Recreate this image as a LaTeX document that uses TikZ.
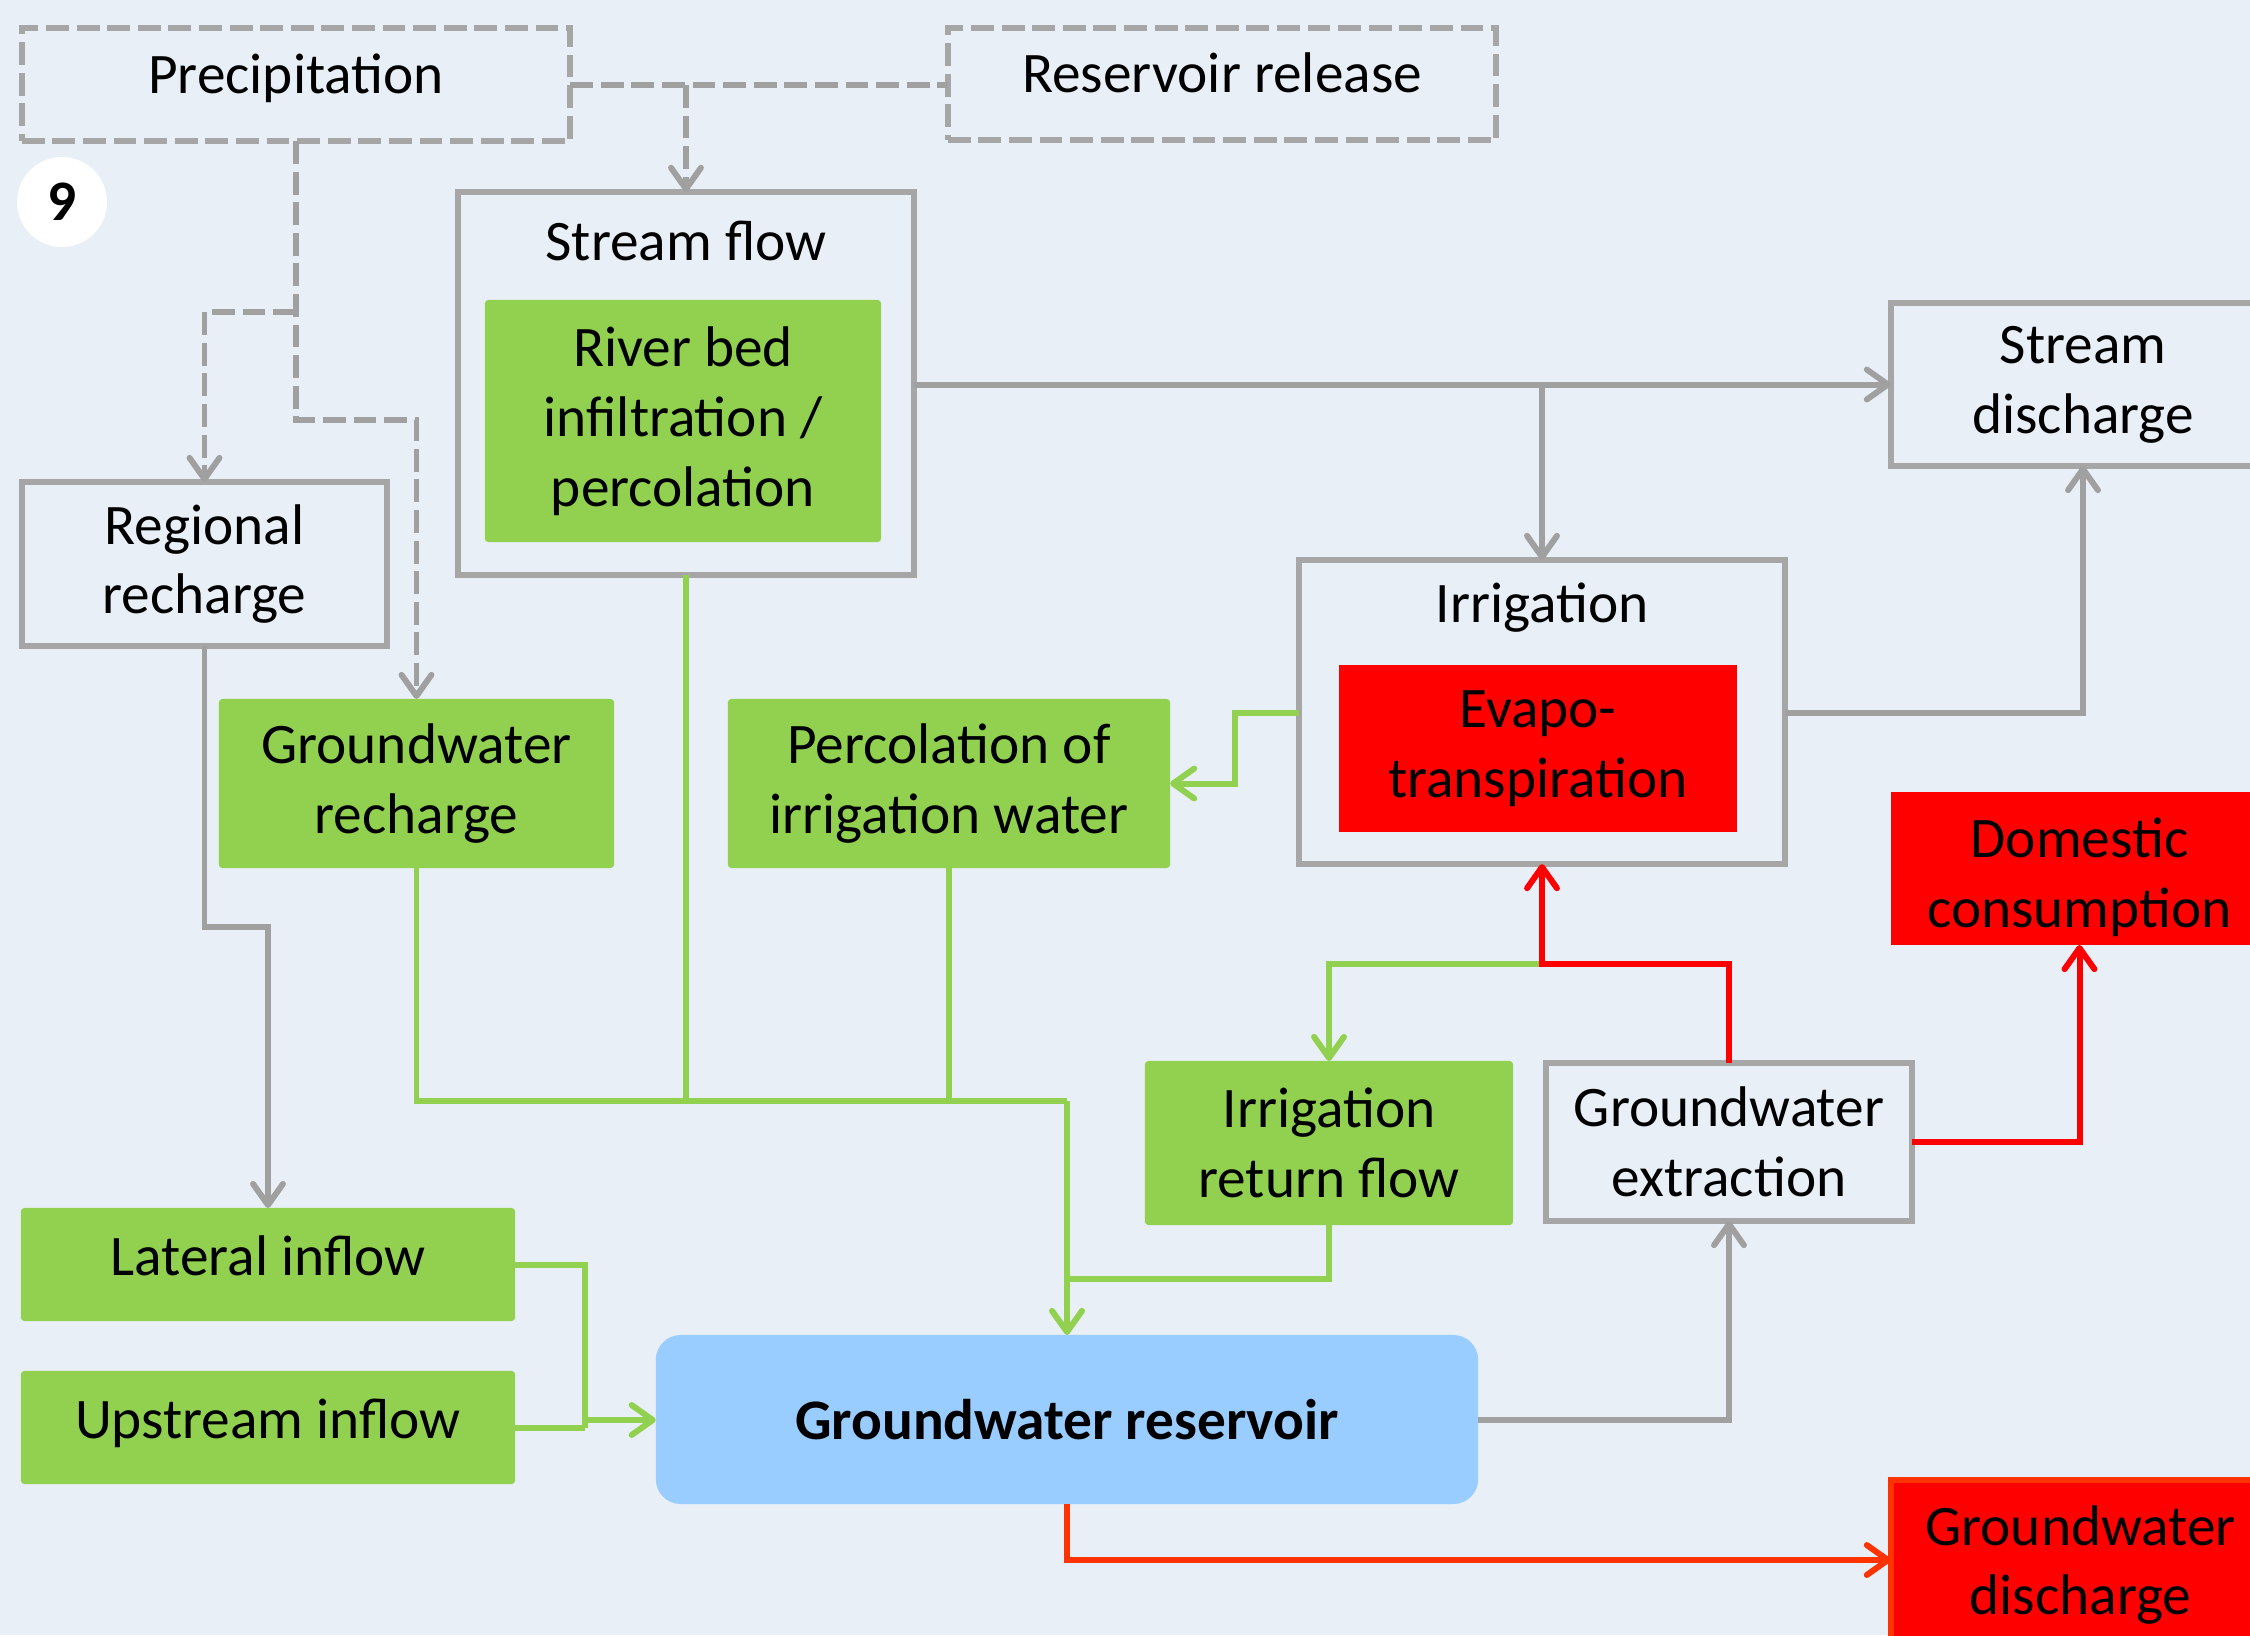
\documentclass[tikz,border=0pt]{standalone}
\usepackage{fontspec}
\setmainfont{Carlito}
\usetikzlibrary{arrows.meta}
\definecolor{bg}{HTML}{E9EFF7}
\definecolor{gline}{HTML}{A0A0A0}
\definecolor{gbord}{HTML}{A6A6A6}
\definecolor{grn}{HTML}{92D050}
\definecolor{rd}{HTML}{FF0000}
\definecolor{orr}{HTML}{FF3300}
\definecolor{lblue}{HTML}{99CCFF}
\begin{document}
\begin{tikzpicture}[x=0.01cm,y=-0.01cm,
  font=\fontsize{16.3}{19.9}\selectfont,
  every node/.style={inner sep=0pt,outer sep=0pt},
  sz/.style 2 args={minimum width=#1cm,minimum height=#2cm},
  box/.style={draw=gbord,line width=1.7pt,align=center},
  dbox/.style={draw=gbord,line width=1.7pt,dash pattern=on 6.5pt off 2.2pt,align=center},
  gbox/.style={fill=grn,align=center,rounded corners=1pt},
  rbox/.style={fill=rd,align=center},
  tip/.style={-{Straight Barb[length=6pt,width=8.5pt,round]}},
  grayline/.style={draw=gline,line width=1.7pt},
  greenline/.style={draw=grn,line width=1.7pt},
  redline/.style={draw=rd,line width=1.7pt},
  orline/.style={draw=orr,line width=1.7pt},
  dashline/.style={draw=gline,line width=1.7pt,dash pattern=on 6.5pt off 2.2pt},
]
\useasboundingbox (0,0) rectangle (2250,1635);
\clip (0,0) rectangle (2250,1635);
\fill[bg] (0,0) rectangle (2250,1635);

% nodes
\node[dbox, sz={5.48}{1.13}, text height=0.4cm, text depth=0.23cm] (precip) at (296,84.5) {Precipitation};
\node[dbox, sz={5.48}{1.12}, text height=0.4cm, text depth=0.23cm] (rr) at (1222,84) {Reservoir release};
\node[circle, fill=white, minimum size=0.9cm, font=\fontsize{16.3}{19.9}\selectfont\bfseries] (nine) at (62,202) {9};

\node[box, sz={4.56}{3.83}] (sf) at (686,383.5) {};
\node (sflab) at (686,241) {Stream flow};
\node[gbox, sz={3.96}{2.42}] (rb) at (683,421) {River bed\\infiltration /\\percolation};

\node[box, sz={3.65}{1.64}] (regrech) at (204.5,564) {Regional\\recharge};
\node[gbox, sz={3.95}{1.69}] (gwrech) at (416.5,783.5) {Groundwater\\recharge};
\node[gbox, sz={4.42}{1.69}] (perc) at (949,783.5) {Percolation of\\irrigation water};

\node[box, sz={4.86}{3.04}] (irr) at (1542,712) {};
\node (irrlab) at (1542,608) {Irrigation};
\node[rbox, sz={3.98}{1.67}] (evap) at (1538,748.5) {Evapo-\\transpiration};

\node[box, sz={3.84}{1.63}] (sd) at (2083,384.5) {Stream\\discharge};
\node[rbox, sz={3.77}{1.53}] (dom) at (2079.5,868.5) {};
\node[align=center] (domlab) at (2079.5,877.5) {Domestic\\consumption};

\node[box, sz={3.66}{1.58}] (gwext) at (1729,1142) {Groundwater\\extraction};
\node[gbox, sz={3.68}{1.64}] (irf) at (1329,1143) {Irrigation\\return flow};

\node[gbox, sz={4.94}{1.13}, text height=0.4cm, text depth=0.19cm] (lat) at (268,1264.5) {Lateral inflow};
\node[gbox, sz={4.94}{1.13}, text height=0.4cm, text depth=0.19cm] (up) at (268,1427.5) {Upstream inflow};

\node[fill=lblue, rounded corners=0.25cm, sz={8.22}{1.69}, font=\fontsize{16.3}{19.9}\selectfont\bfseries] (res) at (1067,1419.5) {Groundwater reservoir};

\node[rbox, draw=orr, line width=1.7pt, sz={3.79}{1.70}] (gwd) at (2080.5,1565) {Groundwater\\discharge};

% dashed connectors
\draw[dashline] (precip.east |- 0,85) -- (rr.west |- 0,85);
\draw[dashline,tip] (sf.north |- 0,85) -- (sf.north);
\draw[dashline,tip] (precip.south) -- (296,420) -| (gwrech.north);
\draw[dashline,tip] (296,312) -| (regrech.north);

% gray connectors
\draw[grayline,tip] (sf.east |- sd.west) -- (sd.west);
\draw[grayline,tip] (irr.north |- sd.west) -- (irr.north);
\draw[grayline,tip] (irr.east |- 0,713) -| (sd.south);
\draw[grayline,tip] (regrech.south) -- (regrech.south |- 0,927) -| (lat.north);
\draw[grayline,tip] (res.east) -| (gwext.south);

% green connectors
\draw[greenline,tip] (irr.west |- 0,713) -- (1235,713) |- (perc.east);
\draw[greenline,tip] (irr.south |- 0,964) -| (irf.north);
\draw[greenline] (gwrech.south) -- (gwrech.south |- 0,1101) -- (res.north |- 0,1101);
\draw[greenline] (sf.south) -- (sf.south |- 0,1101);
\draw[greenline] (perc.south) -- (perc.south |- 0,1101);
\draw[greenline,tip] (res.north |- 0,1101) -- (res.north);
\draw[greenline] (irf.south) |- (res.north |- 0,1279);
\draw[greenline] (lat.east) -| (585,1428);
\draw[greenline] (up.east |- 0,1428) -- (585,1428);
\draw[greenline,tip] (585,1420) -- (res.west |- 0,1420);

% red connectors
\draw[redline,tip] (gwext.north) -- (gwext.north |- 0,964) -| (irr.south);
\draw[redline,tip] (gwext.east) -| (dom.south);
\draw[orline,tip] (res.south) |- (gwd.west |- 0,1560);
\end{tikzpicture}
\end{document}
